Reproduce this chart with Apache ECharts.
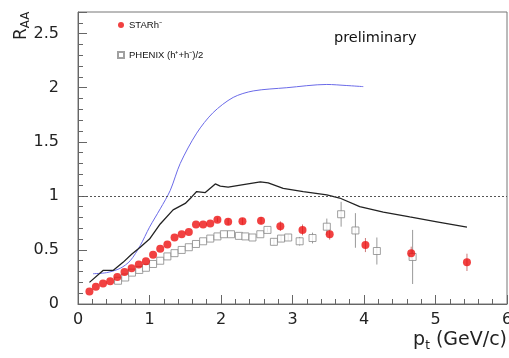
<!DOCTYPE html>
<html>
<head>
<meta charset="utf-8">
<script src="https://cdn.jsdelivr.net/npm/echarts@6/dist/echarts.min.js"></script>
<style>
  html, body { margin: 0; padding: 0; background: #fff; }
  #chart { width: 509px; height: 358px; }
</style>
</head>
<body>
<div id="chart"></div>
<script>
// STAR h- (red dots)
var starX = [0.16, 0.25, 0.35, 0.45, 0.55, 0.65, 0.75, 0.85, 0.95, 1.05, 1.15, 1.25, 1.35, 1.45, 1.55, 1.65, 1.75, 1.85, 1.95, 2.1, 2.3, 2.56, 2.83, 3.14, 3.52, 4.02, 4.66, 5.44];
var starY = [0.115, 0.16, 0.19, 0.21, 0.25, 0.295, 0.33, 0.365, 0.395, 0.455, 0.51, 0.55, 0.615, 0.645, 0.665, 0.735, 0.735, 0.745, 0.78, 0.76, 0.765, 0.77, 0.72, 0.685, 0.645, 0.545, 0.47, 0.385];
var starErr = [0, 0, 0, 0, 0, 0, 0, 0, 0, 0, 0, 0, 0, 0, 0, 0, 0, 0, 0.02, 0.03, 0.03, 0.035, 0.045, 0.05, 0.05, 0.065, 0.06, 0.08];

// PHENIX (h+ + h-)/2 (open squares)
var phenixX = [0.56, 0.66, 0.755, 0.857, 0.95, 1.05, 1.15, 1.25, 1.35, 1.45, 1.55, 1.65, 1.75, 1.85, 1.95, 2.04, 2.14, 2.25, 2.34, 2.44, 2.55, 2.65, 2.74, 2.84, 2.94, 3.1, 3.28, 3.48, 3.68, 3.88, 4.18, 4.68];
var phenixY = [0.215, 0.245, 0.29, 0.315, 0.335, 0.37, 0.4, 0.44, 0.47, 0.5, 0.525, 0.555, 0.58, 0.605, 0.625, 0.645, 0.645, 0.63, 0.625, 0.615, 0.645, 0.685, 0.575, 0.605, 0.615, 0.58, 0.61, 0.715, 0.83, 0.68, 0.49, 0.435];
var phenixErr = [0, 0, 0, 0, 0, 0, 0, 0, 0, 0, 0, 0, 0, 0, 0, 0, 0, 0, 0, 0, 0, 0.02, 0.03, 0.03, 0.03, 0.04, 0.05, 0.075, 0.115, 0.16, 0.125, 0.25];

// black curve
var blackX = [0.16, 0.35, 0.49, 0.63, 0.75, 0.87, 1.0, 1.15, 1.33, 1.5, 1.59, 1.66, 1.78, 1.92, 1.99, 2.1, 2.27, 2.55, 2.66, 2.87, 3.15, 3.48, 3.66, 3.94, 4.27, 4.64, 5.02, 5.44];
var blackY = [0.2, 0.31, 0.31, 0.385, 0.46, 0.525, 0.6, 0.74, 0.87, 0.93, 0.99, 1.04, 1.03, 1.11, 1.09, 1.08, 1.1, 1.13, 1.12, 1.07, 1.04, 1.01, 0.98, 0.9, 0.85, 0.805, 0.76, 0.71];

// blue curve
var blueX = [0.21, 0.4, 0.59, 0.73, 0.87, 1.0, 1.15, 1.29, 1.43, 1.66, 1.89, 2.17, 2.45, 2.92, 3.48, 3.76, 3.99];
var blueY = [0.28, 0.29, 0.33, 0.4, 0.54, 0.71, 0.88, 1.05, 1.3, 1.58, 1.77, 1.91, 1.97, 2.0, 2.03, 2.02, 2.01];

var xTicks = { min: 0, max: 6, interval: 1 };
var yTicks = { min: 0, max: 2.7, interval: 0.5 };

function zip(xs, ys) {
  return xs.map(function (x, i) { return [x, ys[i]]; });
}

function errorBars(xs, ys, es, color) {
  var data = [];
  xs.forEach(function (x, i) {
    if (es[i] > 0) data.push([x, ys[i] - es[i], ys[i] + es[i]]);
  });
  return {
    type: 'custom',
    silent: true,
    z: 1,
    data: data,
    renderItem: function (params, api) {
      var lo = api.coord([api.value(0), api.value(1)]);
      var hi = api.coord([api.value(0), api.value(2)]);
      return {
        type: 'line',
        shape: { x1: lo[0], y1: lo[1], x2: hi[0], y2: hi[1] },
        style: { stroke: color, lineWidth: 1 }
      };
    }
  };
}

var chart = echarts.init(document.getElementById('chart'));
var font = 'DejaVu Sans, sans-serif';
var axisColor = '#666';

chart.setOption({
  animation: false,
  textStyle: { fontFamily: font },
  grid: {
    left: 78, right: 2, top: 12, bottom: 54,
    show: true, borderColor: '#777', borderWidth: 1,
    outerBoundsMode: 'none'
  },
  legend: {
    data: ['STARh⁻', 'PHENIX (h⁺+h⁻)/2'],
    orient: 'vertical',
    left: 117, top: 20, padding: 0,
    itemWidth: 6, itemHeight: 6, itemGap: 20,
    textStyle: { fontSize: 9.5, color: '#111', fontFamily: 'Liberation Sans, Arial, sans-serif' }
  },
  xAxis: {
    type: 'value',
    min: xTicks.min, max: xTicks.max, interval: xTicks.interval,
    axisLine: { lineStyle: { color: axisColor } },
    axisTick: { inside: true, length: 9, lineStyle: { color: axisColor } },
    minorTick: { show: true, splitNumber: 5, length: 5, lineStyle: { color: axisColor } },
    splitLine: { show: false },
    axisLabel: { fontSize: 16, color: '#222', margin: 8 }
  },
  yAxis: {
    type: 'value',
    min: yTicks.min, max: yTicks.max, interval: yTicks.interval,
    axisLine: { show: true, lineStyle: { color: axisColor } },
    axisTick: { show: true, inside: true, length: 9, lineStyle: { color: axisColor } },
    minorTick: { show: true, splitNumber: 5, length: 5, lineStyle: { color: axisColor } },
    splitLine: { show: false },
    axisLabel: { fontSize: 16, color: '#222', margin: 19, showMaxLabel: false }
  },
  graphic: [
    {
      type: 'text', left: 334, top: 31,
      style: { text: 'preliminary', font: '14.5px ' + font, fill: '#111' }
    },
    {
      type: 'text', x: 12, y: 40, rotation: Math.PI / 2,
      style: {
        text: '{r|R}{s|AA}',
        rich: {
          r: { fontSize: 17, fill: '#222', fontFamily: font },
          s: { fontSize: 12, fill: '#222', fontFamily: font, padding: [8, 0, 0, 0] }
        }
      }
    },
    {
      type: 'text', right: 2, top: 331,
      style: {
        text: '{p|p}{t|t}{p| (GeV/c)}',
        rich: {
          p: { fontSize: 19, fill: '#222', fontFamily: font },
          t: { fontSize: 12, fill: '#222', fontFamily: font, padding: [10, 0, 0, 0] }
        }
      }
    }
  ],
  series: [
    {
      type: 'line',
      data: zip(blueX, blueY),
      smooth: 0.3,
      showSymbol: false,
      lineStyle: { color: '#6a6ae8', width: 1 },
      z: 2
    },
    {
      type: 'line',
      data: zip(blackX, blackY),
      showSymbol: false,
      lineStyle: { color: '#222', width: 1.3 },
      z: 2,
      markLine: {
        silent: true,
        symbol: 'none',
        label: { show: false },
        lineStyle: { color: '#555', type: [2, 2], width: 1 },
        data: [{ yAxis: 1 }]
      }
    },
    errorBars(phenixX, phenixY, phenixErr, '#999'),
    errorBars(starX, starY, starErr, '#c77'),
    {
      name: 'PHENIX (h⁺+h⁻)/2',
      type: 'scatter',
      data: zip(phenixX, phenixY),
      symbol: 'rect',
      symbolSize: 7,
      itemStyle: { color: '#fff', borderColor: '#888', borderWidth: 1 },
      z: 3
    },
    {
      name: 'STARh⁻',
      type: 'scatter',
      data: zip(starX, starY),
      symbol: 'circle',
      symbolSize: 8,
      itemStyle: { color: '#ee1111' },
      z: 4
    }
  ]
});
</script>
</body>
</html>
